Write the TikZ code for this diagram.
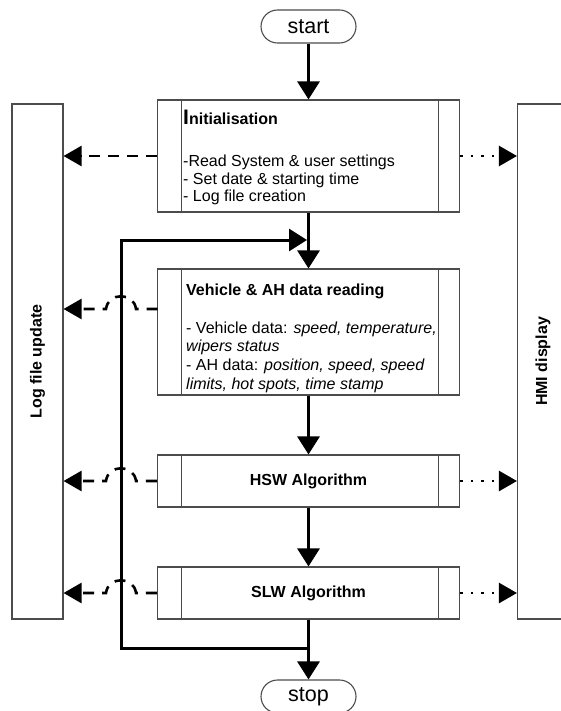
\documentclass[tikz,border=0pt]{standalone}
\usepackage{fontspec}
\setmainfont{Liberation Sans}
\usetikzlibrary{arrows.meta,shapes.misc,calc}
\begin{document}
\begin{tikzpicture}[x=1pt,y=-1pt,
  box/.style={draw=black!70, line width=1.1pt, minimum width=302pt, inner sep=0pt},
  boxline/.style={draw=black!70, line width=1.1pt},
  side/.style={draw=black!70, line width=1.1pt, minimum width=51pt, minimum height=515pt, inner sep=0pt},
  term/.style={draw=black!70, line width=1.1pt, rounded rectangle, minimum width=95pt, minimum height=33pt, inner sep=0pt, font=\fontsize{21.5}{23}\selectfont},
  flow/.style={line width=3pt, -{Triangle[length=18pt,width=22pt]}},
  logarrow/.style={line width=2.6pt, dash pattern=on 11pt off 8pt, -{Triangle[length=18pt,width=20pt]}},
  hmiarrow/.style={line width=2.6pt, dash pattern=on 2.6pt off 8pt, -{Triangle[length=18pt,width=20pt]}},
  txt/.style={anchor=base west, inner sep=0pt, font=\fontsize{16}{18}\selectfont},
  btxt/.style={anchor=base west, inner sep=0pt, font=\bfseries\fontsize{16}{18}\selectfont},
  title/.style={font=\bfseries\fontsize{16}{18}\selectfont}
]
\useasboundingbox (0,0) rectangle (561,711);

% terminators
\node[term] (start) at (308.5,26.5) {start};
\node[term] (stop) at (308.5,696.5) {stop};

% process boxes
\node[box, minimum height=112pt] (init) at (308.5,156) {};
\node[box, minimum height=126pt] (veh) at (308.5,332) {};
\node[box, minimum height=52pt, title] (hsw) at (308.5,481) {HSW Algorithm};
\node[box, minimum height=52pt, title] (slw) at (308.5,593) {SLW Algorithm};
\foreach \b in {init,veh,hsw,slw} {
  \draw[boxline] ([xshift=24.5pt]\b.north west) -- ([xshift=24.5pt]\b.south west);
  \draw[boxline] ([xshift=-22pt]\b.north east) -- ([xshift=-22pt]\b.south east);
}

% side boxes
\node[side] (log) at (37.5,361.5) {};
\node[side] (hmi) at (543,361.5) {};
\node[rotate=90, title] (logtext) at (log.center) {Log file update};
\node[rotate=90, title] (hmitext) at (hmi.center) {HMI display};

% texts
\node[btxt] (inithead) at (183,125) {{\fontsize{21}{22}\selectfont I}nitialisation};
\node[txt] (init1) at (183,167) {-Read System \& user settings};
\node[txt] (init2) at (183,185) {- Set date \& starting time};
\node[txt] (init3) at (183,202) {- Log file creation};

\node[btxt] (vehhead) at (186,295) {Vehicle \& AH data reading};
\node[txt] (veh1) at (186,333) {- Vehicle data: \textit{speed, temperature,}};
\node[txt] (veh2) at (186,351.5) {\textit{wipers status}};
\node[txt] (veh3) at (186,370.5) {- AH data: \textit{position, speed, speed}};
\node[txt] (veh4) at (186,389) {\textit{limits, hot spots, time stamp}};

% main flow
\draw[flow] (start.south) -- (init.north);
\draw[flow] (init.south) -- (veh.north);
\draw[flow] (veh.south) -- (hsw.north);
\draw[flow] (hsw.south) -- (slw.north);
\draw[flow] (slw.south) -- (stop.north);

% loop
\coordinate (lj) at (308.5,648);
\coordinate (lc) at (121,240);
\coordinate (le) at (307,240);
\draw[flow, line join=miter] (lj) -| (lc) -- (le);

% log arrows
\draw[logarrow] (init.west) -- (log.east |- init.west);
\coordinate (vehport) at (157.5,309);
\foreach \p in {vehport, hsw.west, slw.west} {
  \draw[logarrow] (\p) -- ($(\p -| lc)+(15,0)$)
    .. controls +(-2,-17) and +(2,-17) .. ($(\p -| lc)+(-15,0)$)
    -- (log.east |- \p);
}

% HMI arrows
\foreach \b in {init,hsw,slw} {
  \draw[hmiarrow] (\b.east) -- (hmi.west |- \b.east);
}
\end{tikzpicture}
\end{document}
